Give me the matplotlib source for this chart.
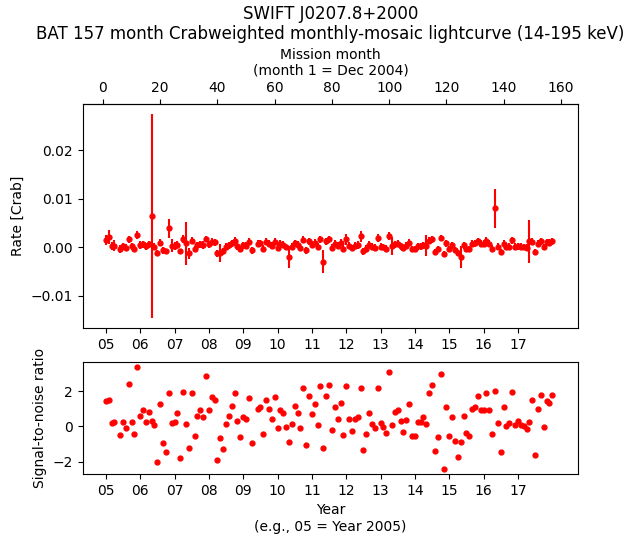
import matplotlib
matplotlib.use("Agg")
import matplotlib.pyplot as plt

# mission months (month 1 = Dec 2004); months 5 and 53 have no point
months = list(range(1, 5)) + list(range(6, 53)) + list(range(54, 158))

# rate [Crab]
rate = [
    0.0014, 0.0021, 0.0002, 0.0003,
    -0.0004, 0.0002, -0.0001, 0.0016, 0.0002, -0.0003, 0.0025, 0.0005, 0.0006, 0.0002,
    0.0006, 0.0064, 0.0001, -0.0012, 0.0009, -0.0007, -0.0009, 0.0039, 0.0003, 0.0002,
    0.0005, -0.0009, 0.0017, 0.0008, -0.0013, 0.0013, -0.0004, 0.0004, 0.0006, 0.0004,
    0.0016, 0.0006, 0.0011, 0.0010, -0.0013, -0.0012, -0.0009, 0.0001, 0.0004, 0.0008,
    0.0013, 0.0002, -0.0004, 0.0004, 0.0003, 0.0011, -0.0007,
    0.0007, 0.0008, -0.0003, 0.0011, 0.0007, 0.0003, 0.0011, -0.0001, 0.0007, 0.0005,
    0.0000, -0.0020, 0.0001, 0.0008, 0.0005, -0.0001, 0.0015, -0.0007, 0.0012, 0.0005,
    0.0009, 0.0001, 0.0016, -0.0030, 0.0012, 0.0016, -0.0001, 0.0007, 0.0003, 0.0009,
    -0.0003, 0.0016, 0.0003, -0.0002, 0.0003, 0.0004, 0.0022, -0.0009, -0.0003, 0.0005,
    0.0001, -0.0001, 0.0019, 0.0001, 0.0000, -0.0003, 0.0023, 0.0002, 0.0006, 0.0007,
    0.0002, -0.0002, 0.0003, 0.0009, -0.0004, -0.0004, 0.0002, 0.0002, 0.0004, 0.0003,
    0.0013, 0.0016, -0.0010, -0.0004, 0.0019, -0.0014, 0.0008, -0.0004, 0.0004, -0.0006,
    -0.0012, -0.0020, 0.0004, -0.0003, -0.0004, 0.0007, 0.0008, 0.0012, 0.0007, 0.0007,
    0.0013, 0.0007, -0.0003, 0.0080, 0.0001, -0.0010, 0.0007, 0.0000, 0.0001, 0.0014,
    0.0001, 0.0002, 0.0001, 0.0000, -0.0001, 0.0012, 0.0011, -0.0010, 0.0007, 0.0012,
    0.0000, 0.0010, 0.0009, 0.0012,
]

# 1-sigma errors on rate
rate_err = [
    0.0010, 0.0014, 0.0009, 0.0011,
    0.0008, 0.0007, 0.0007, 0.0007, 0.0007, 0.0007, 0.00075, 0.0008, 0.0007, 0.0007,
    0.0007, 0.0210, 0.0008, 0.0006, 0.0007, 0.0008, 0.0006, 0.0020, 0.0013, 0.0008,
    0.0007, 0.0005, 0.0009, 0.0044, 0.0011, 0.0007, 0.0007, 0.0007, 0.0007, 0.0008,
    0.0006, 0.0007, 0.0007, 0.0007, 0.0007, 0.0018, 0.0007, 0.0007, 0.0007, 0.0007,
    0.0007, 0.0007, 0.0007, 0.0007, 0.0007, 0.0007, 0.0007,
    0.0007, 0.0007, 0.0007, 0.0007, 0.0007, 0.0007, 0.0007, 0.0007, 0.0007, 0.0007,
    0.0007, 0.0023, 0.0007, 0.0007, 0.0007, 0.0007, 0.0007, 0.0007, 0.0007, 0.0007,
    0.0007, 0.0007, 0.0007, 0.0024, 0.0007, 0.0007, 0.0007, 0.0007, 0.0007, 0.0007,
    0.0007, 0.0012, 0.0007, 0.0007, 0.0007, 0.0008, 0.0011, 0.0007, 0.0007, 0.0007,
    0.0007, 0.0007, 0.0009, 0.0007, 0.0007, 0.0007, 0.00075, 0.0019, 0.0007, 0.0007,
    0.0007, 0.0007, 0.0007, 0.0007, 0.0007, 0.0007, 0.0007, 0.0007, 0.0007, 0.0021,
    0.0007, 0.0007, 0.0007, 0.0007, 0.00065, 0.0006, 0.0007, 0.0007, 0.0007, 0.0007,
    0.0007, 0.0023, 0.0007, 0.0007, 0.0007, 0.0007, 0.0007, 0.0007, 0.0007, 0.0007,
    0.0007, 0.0007, 0.0007, 0.0040, 0.0007, 0.0007, 0.0007, 0.0007, 0.0007, 0.0007,
    0.0007, 0.0007, 0.0007, 0.0007, 0.0007, 0.0045, 0.0007, 0.0006, 0.0007, 0.0007,
    0.0007, 0.0007, 0.0007, 0.0007,
]

# signal-to-noise ratio
snr = [
    1.41, 1.52, 0.21, 0.27,
    -0.48, 0.27, -0.08, 2.38, 0.27, -0.42, 3.35, 0.61, 0.91, 0.27,
    0.84, 0.32, 0.10, -2.02, 1.24, -0.93, -1.45, 1.87, 0.21, 0.27,
    0.78, -1.79, 1.93, 0.15, -1.22, 1.87, -0.53, 0.61, 0.91, 0.50,
    2.84, 0.90, 1.64, 1.47, -1.90, -0.65, -1.27, 0.15, 0.61, 1.18,
    1.87, 0.32, -0.59, 0.55, 0.44, 1.58, -0.93,
    1.01, 1.12, -0.42, 1.52, 1.01, 0.44, 1.64, -0.08, 0.95, 0.78,
    -0.02, -0.88, 0.15, 1.18, 0.78, -0.08, 2.15, -1.05, 1.70, 0.67,
    1.24, 0.10, 2.27, -1.22, 1.70, 2.33, -0.19, 1.07, 0.44, 1.35,
    -0.48, 2.27, 0.44, -0.25, 0.44, 0.50, 2.15, -1.33, -0.42, 0.78,
    0.15, -0.08, 2.15, 0.21, -0.02, -0.36, 3.07, 0.10, 0.84, 0.95,
    0.32, -0.30, 0.38, 1.24, -0.53, -0.53, 0.27, 0.27, 0.50, 0.15,
    1.87, 2.33, -1.39, -0.59, 2.95, -2.42, 1.12, -0.53, 0.55, -0.82,
    -1.73, -0.88, 0.61, -0.36, -0.53, 1.01, 1.12, 1.70, 0.95, 0.95,
    1.87, 0.95, -0.42, 1.98, 0.21, -1.45, 1.07, 0.04, 0.21, 1.93,
    0.10, 0.32, 0.10, 0.04, -0.13, 0.27, 1.52, -1.62, 1.01, 1.75,
    -0.02, 1.41, 1.30, 1.75,
]

years = list(range(2005, 2018))
year_labels = ["%02d" % (y - 2000) for y in years]
year_ticks = [(y - 2005) * 12 + 1 for y in years]   # Jan of each year in mission months
month_ticks = list(range(0, 161, 20))

fig = plt.figure(figsize=(6.38, 5.43), dpi=100)
ax1 = fig.add_axes([0.130, 0.396, 0.776, 0.412])
ax2 = fig.add_axes([0.130, 0.127, 0.776, 0.206])

ax1.errorbar(months, rate, yerr=rate_err, fmt='o', color='red', ms=3.5,
             elinewidth=1.5, capsize=0)
ax1.set_xlim(-7, 166)
ax1.set_xticks(year_ticks)
ax1.set_xticklabels(year_labels)
ax1.set_ylabel('Rate [Crab]')
ax1.set_title('SWIFT J0207.8+2000\nBAT 157 month Crabweighted monthly-mosaic lightcurve (14-195 keV)')

top = ax1.secondary_xaxis('top')
top.set_xticks(month_ticks)
top.set_xlabel('Mission month\n(month 1 = Dec 2004)')

ax2.plot(months, snr, 'o', color='red', ms=3.5)
ax2.set_xlim(-7, 166)
ax2.set_xticks(year_ticks)
ax2.set_xticklabels(year_labels)
ax2.set_yticks([-2, 0, 2])
ax2.set_ylabel('Signal-to-noise ratio')
ax2.set_xlabel('Year\n(e.g., 05 = Year 2005)')

fig.savefig('out.png', dpi=100)
